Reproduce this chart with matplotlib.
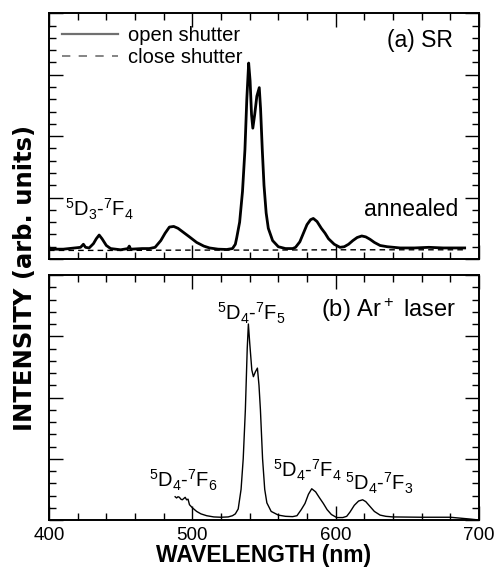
import matplotlib
matplotlib.use("Agg")
import matplotlib.pyplot as plt
from matplotlib.ticker import MultipleLocator

plt.rcParams['font.family'] = ['Liberation Sans', 'DejaVu Sans']

# ---- data ----
sr_open_wl = [400, 410, 418, 422, 424, 425.5, 428, 431, 433, 435, 437, 440, 443, 450,
              455, 456, 457, 465, 470, 474, 478, 481, 484, 487, 490, 494, 498, 503,
              508, 512, 518, 524, 528, 530, 531, 533, 535, 536.7, 538, 539.3, 540.3,
              541.3, 542.2, 543.5, 545, 546.7, 547.6, 548.8, 550, 551.5, 553, 556, 560,
              565, 570, 572, 575, 577.5, 580, 582.5, 584.4, 587, 590, 592.6, 595, 599,
              603, 606, 609, 612, 615, 618.2, 621, 624, 627, 631, 636, 645, 655, 665,
              675, 690]
sr_open_int = [0.16, 0.16, 0.18, 0.19, 0.24, 0.19, 0.18, 0.25, 0.33, 0.39, 0.33, 0.22, 0.17, 0.15,
               0.17, 0.21, 0.16, 0.17, 0.17, 0.19, 0.3, 0.42, 0.52, 0.53, 0.5, 0.43, 0.36, 0.27,
               0.21, 0.18, 0.16, 0.155, 0.17, 0.24, 0.35, 0.6, 1.1, 1.78, 2.6, 3.19, 2.9,
               2.35, 2.13, 2.35, 2.65, 2.79, 2.45, 1.78, 1.2, 0.75, 0.5, 0.3, 0.2,
               0.17, 0.17, 0.19, 0.28, 0.42, 0.56, 0.64, 0.66, 0.61, 0.5, 0.42, 0.33, 0.24,
               0.19, 0.2, 0.24, 0.3, 0.35, 0.375, 0.36, 0.32, 0.27, 0.22, 0.2, 0.18, 0.18, 0.19,
               0.18, 0.18]

sr_closed_wl = [400, 450, 500, 550, 600, 650, 690]
sr_closed_int = [0.14, 0.14, 0.145, 0.145, 0.15, 0.15, 0.15]

ar_wl = [488, 489, 490, 491, 492, 493, 494, 495, 496, 497, 498, 500, 503, 506, 510, 515,
         520, 525, 528, 530, 532, 534, 535.5, 537, 538.3, 539.1, 540, 541.5, 542.6, 544,
         545.4, 546.5, 547.5, 549, 550.5, 552, 555, 560, 565, 570, 573, 576, 578.6, 581,
         583.3, 586, 588.5, 591.4, 594, 597, 600.7, 605, 607.7, 610, 613, 616, 618.8, 621,
         624, 627, 631, 635, 640, 660, 680, 687, 694, 700]
ar_int = [0.38, 0.36, 0.38, 0.37, 0.34, 0.33, 0.35, 0.37, 0.33, 0.34, 0.25, 0.2, 0.14, 0.1, 0.07, 0.05,
          0.045, 0.05, 0.07, 0.1, 0.18, 0.5, 1.0, 1.8, 2.8, 3.2, 2.9, 2.45, 2.34, 2.42,
          2.48, 2.2, 1.8, 1.0, 0.5, 0.28, 0.14, 0.08, 0.06, 0.055, 0.07, 0.17, 0.27, 0.42,
          0.51, 0.46, 0.37, 0.27, 0.17, 0.09, 0.04, 0.04, 0.06, 0.13, 0.24, 0.31, 0.33, 0.3,
          0.22, 0.14, 0.08, 0.06, 0.05, 0.045, 0.045, 0.03, 0.015, 0.0]

W, H = 494, 567
fig = plt.figure(figsize=(W / 100, H / 100), dpi=100)

left, right = 49 / W, 479 / W
ax1 = fig.add_axes([left, 1 - 259 / H, right - left, (259 - 13.3) / H])
ax2 = fig.add_axes([left, 1 - 520 / H, right - left, (520 - 275) / H])

for ax in (ax1, ax2):
    ax.set_xlim(400, 700)
    ax.set_ylim(0, 4)
    ax.xaxis.set_major_locator(MultipleLocator(100))
    ax.xaxis.set_minor_locator(MultipleLocator(20))
    ax.yaxis.set_major_locator(MultipleLocator(1))
    ax.yaxis.set_minor_locator(MultipleLocator(0.2))
    ax.tick_params(which='both', direction='in', top=True, right=True, width=1.0)
    ax.tick_params(which='major', length=10)
    ax.tick_params(which='minor', length=5)
    ax.tick_params(axis='y', labelleft=False)
    for s in ax.spines.values():
        s.set_linewidth(1.4)

ax1.tick_params(axis='x', labelbottom=False)
ax2.tick_params(axis='x', labelsize=13.5, pad=5)

# top panel
ax1.plot(sr_open_wl, sr_open_int, color='black', lw=2.0)
ax1.plot(sr_closed_wl, sr_closed_int, color='black', lw=1.0, ls=(0, (4, 3)))
ax1.plot([], [], color='#707070', lw=1.6, label='open shutter')
ax1.plot([], [], color='#707070', lw=1.2, ls=(0, (5, 5)), label='close shutter')
ax1.legend(loc='upper left', frameon=False, fontsize=14.5, handlelength=2.8,
           handletextpad=0.45, labelspacing=0.15, borderaxespad=0.25,
           bbox_to_anchor=(0.0, 1.0))
ax1.text(0.94, 0.89, '(a) SR', transform=ax1.transAxes, fontsize=16.5,
         ha='right', va='center')
ax1.text(0.952, 0.2, 'annealed', transform=ax1.transAxes, fontsize=16.5,
         ha='right', va='center')
ax1.text(435.5, 0.8, r'$\mathregular{^5D_3}$-$\mathregular{^7F_4}$', fontsize=14.5,
         ha='center', va='center')

# bottom panel
ax2.plot(ar_wl, ar_int, color='black', lw=1.0)
ax2.text(0.948, 0.855, r'(b) Ar$\mathregular{^+}$ laser', transform=ax2.transAxes,
         fontsize=17, ha='right', va='center')
ax2.text(541.5, 3.38, r'$\mathregular{^5D_4}$-$\mathregular{^7F_5}$', fontsize=14.5,
         ha='center', va='center')
ax2.text(494, 0.65, r'$\mathregular{^5D_4}$-$\mathregular{^7F_6}$', fontsize=14.5,
         ha='center', va='center')
ax2.text(580.0, 0.81, r'$\mathregular{^5D_4}$-$\mathregular{^7F_4}$', fontsize=14.5,
         ha='center', va='center')
ax2.text(630.5, 0.6, r'$\mathregular{^5D_4}$-$\mathregular{^7F_3}$', fontsize=14.5,
         ha='center', va='center')

ax2.set_xlabel('WAVELENGTH (nm)', fontsize=16.5, fontweight='bold', labelpad=0)
fig.text(25 / W, 1 - 278 / H, 'INTENSITY (arb. units)', rotation=90, fontsize=17.5,
         fontweight='bold', ha='center', va='center',
         family=['DejaVu Sans'])

fig.savefig('out.png', dpi=100)
